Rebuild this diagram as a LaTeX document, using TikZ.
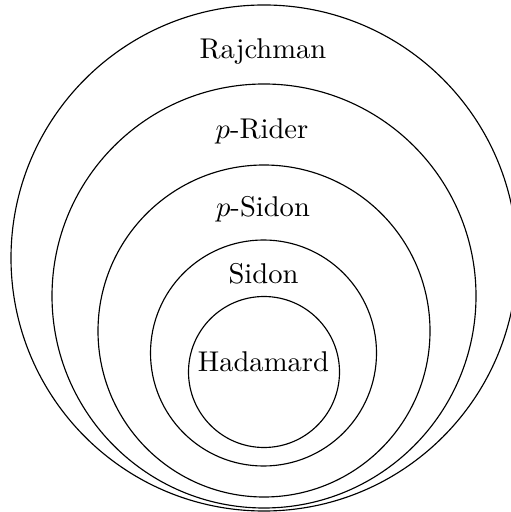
\documentclass[tikz,border=0pt]{standalone}
\begin{document}
\begin{tikzpicture}[x=0.35pt,y=-0.35pt,
  ring/.style={draw=black,line width=0.4pt},
  lbl/.style={anchor=base,inner sep=0pt,font=\normalsize}]
\useasboundingbox (0,0) rectangle (511,512);
\clip (0,0) rectangle (511,512);
\coordinate (c1) at (264,258);
\coordinate (c2) at (264,296);
\coordinate (c3) at (264,331);
\coordinate (c4) at (263.5,353);
\coordinate (c5) at (264,372);
\draw[ring] (c1) circle[radius=253];
\draw[ring] (c2) circle[radius=212];
\draw[ring] (c3) circle[radius=166];
\draw[ring] (c4) circle[radius=113];
\draw[ring] (c5) circle[radius=75.5];
\node[lbl] (raj) at (263,59) {Rajchman};
\node[lbl] (rid) at (262,139) {$p$-Rider};
\node[lbl] (psi) at (263,217) {$p$-Sidon};
\node[lbl] (sid) at (263.5,284) {Sidon};
\node[lbl] (had) at (263.4,371) {Hadamard};
\end{tikzpicture}
\end{document}
